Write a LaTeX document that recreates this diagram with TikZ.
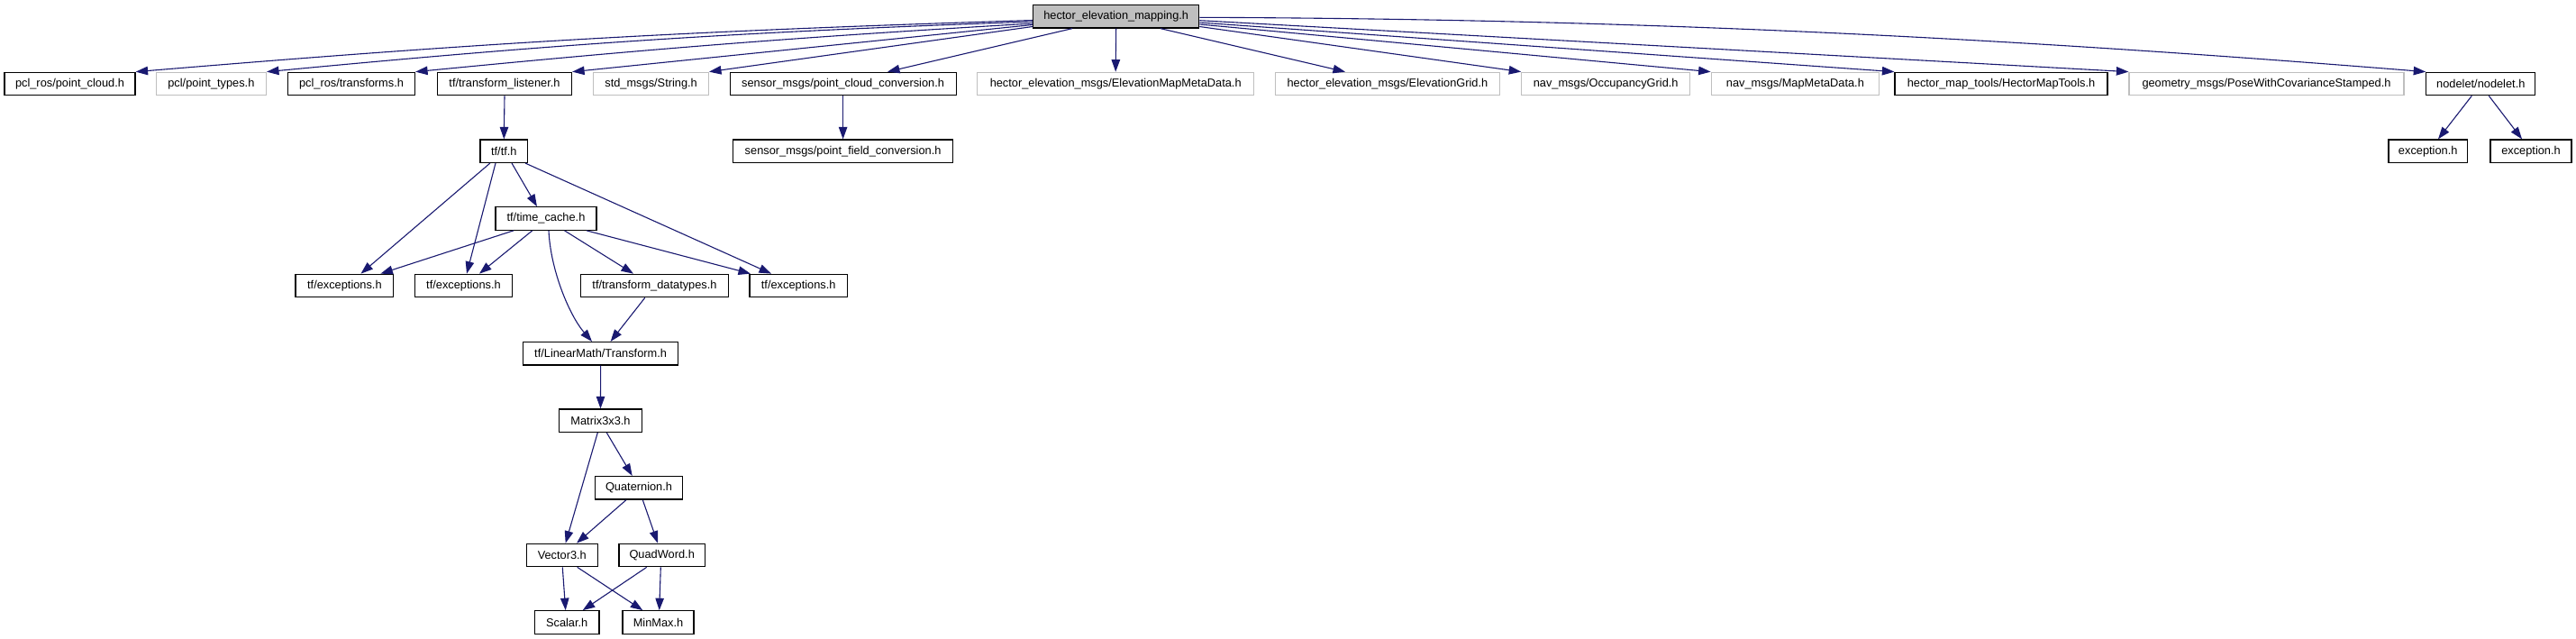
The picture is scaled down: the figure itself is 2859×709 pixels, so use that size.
\documentclass[tikz,border=0pt]{standalone}
\usepackage{fontspec}
\setmainfont{Liberation Sans}
\usetikzlibrary{arrows.meta,calc}
\definecolor{edgec}{HTML}{191970}
\definecolor{grayb}{HTML}{BFBFBF}
\begin{document}
\begin{tikzpicture}[x=1pt,y=-1pt,
  box/.style={draw=black, line width=1.2pt, minimum height=25.5pt, inner sep=0pt, font=\fontsize{12.8}{15}\selectfont, text=black},
  gbox/.style={box, draw=grayb},
  edge/.style={draw=edgec, line width=1.1pt, -{Triangle[length=13.5pt,width=9.5pt]}}]
\useasboundingbox (0,0) rectangle (2859,709);
% top
\node[box, fill=grayb, minimum width=184pt] (top) at (1238.7,18.3) {hector\_elevation\_mapping.h};
% row 1
\node[box, minimum width=145pt] (pc) at (77.5,93) {pcl\_ros/point\_cloud.h};
\node[gbox, minimum width=122pt] (pt) at (234.4,93) {pcl/point\_types.h};
\node[box, minimum width=141pt] (tr) at (390,93) {pcl\_ros/transforms.h};
\node[box, minimum width=149pt] (tl) at (560,93) {tf/transform\_listener.h};
\node[gbox, minimum width=127.6pt] (str) at (722.6,93) {std\_msgs/String.h};
\node[box, minimum width=251pt] (spc) at (935.6,93) {sensor\_msgs/point\_cloud\_conversion.h};
\node[gbox, minimum width=306.8pt] (emd) at (1238.2,93) {hector\_elevation\_msgs/ElevationMapMetaData.h};
\node[gbox, minimum width=249.3pt] (eg) at (1539.9,93) {hector\_elevation\_msgs/ElevationGrid.h};
\node[gbox, minimum width=186.8pt] (og) at (1782.2,93) {nav\_msgs/OccupancyGrid.h};
\node[gbox, minimum width=186.4pt] (mmd) at (1992.4,93) {nav\_msgs/MapMetaData.h};
\node[box, minimum width=236pt] (hmt) at (2221,93) {hector\_map\_tools/HectorMapTools.h};
\node[gbox, minimum width=305pt] (pwc) at (2515.5,93) {geometry\_msgs/PoseWithCovarianceStamped.h};
\node[box, minimum width=121pt] (nod) at (2753.3,93) {nodelet/nodelet.h};
% row 2
\node[box, minimum width=52.5pt] (tf) at (559.3,167.7) {tf/tf.h};
\node[box, minimum width=243.6pt] (spf) at (935.6,167.7) {sensor\_msgs/point\_field\_conversion.h};
\node[box, minimum width=87.5pt] (ex1) at (2694.7,167.7) {exception.h};
\node[box, minimum width=90pt] (ex2) at (2809,167.7) {exception.h};
% row 3
\node[box, minimum width=112pt] (tc) at (606,242.5) {tf/time\_cache.h};
% row 4
\node[box, minimum width=108.7pt] (e1) at (382.4,317) {tf/exceptions.h};
\node[box, minimum width=107.7pt] (e2) at (514.5,317) {tf/exceptions.h};
\node[box, minimum width=164.3pt] (td) at (726.5,317) {tf/transform\_datatypes.h};
\node[box, minimum width=108.3pt] (e3) at (886.2,317) {tf/exceptions.h};
% row 5..9
\node[box, minimum width=172pt] (lt) at (666.6,392.3) {tf/LinearMath/Transform.h};
\node[box, minimum width=91.6pt] (m3) at (666.5,466.7) {Matrix3x3.h};
\node[box, minimum width=96.6pt] (q) at (709,541.3) {Quaternion.h};
\node[box, minimum width=79pt] (v3) at (623.8,616) {Vector3.h};
\node[box, minimum width=95.3pt] (qw) at (734.7,616) {QuadWord.h};
\node[box, minimum width=71.7pt] (sc) at (629.2,690.5) {Scalar.h};
\node[box, minimum width=79pt] (mm) at (730.5,690.5) {MinMax.h};
% edges from top
\draw[edge] ($(top.west)+(0,4.2)$) to[bend right=1.5] (pc.north east);
\draw[edge] ($(top.west)+(0,5.7)$) to[bend right=1.7] (pt.north east);
\draw[edge] ($(top.west)+(0,7.7)$) to[bend right=1.1] (tr.north east);
\draw[edge] ($(top.west)+(0,9.2)$) -- (tl.north east);
\draw[edge] ($(top.west)+(0,11.2)$) -- (str.north east);
\draw[edge] ($(top.south)+(-48.7,0)$) -- ($(spc.north)+(49.4,0)$);
\draw[edge] (top.south) -- (emd.north);
\draw[edge] ($(top.south)+(49.3,0)$) -- ($(eg.north)+(-46.9,0)$);
\draw[edge] ($(top.east)+(0,11.2)$) -- (og.north west);
\draw[edge] ($(top.east)+(0,8.7)$) -- (mmd.north west);
\draw[edge] ($(top.east)+(0,6.7)$) -- (hmt.north west);
\draw[edge] ($(top.east)+(0,4.4)$) -- (pwc.north west);
\draw[edge] ($(top.east)+(0,1)$) .. controls (1800,21) and (2200,40) .. (nod.north west);
% lower edges
\draw[edge] (tl.south) -- (tf.north);
\draw[edge] (spc.south) -- (spf.north);
\draw[edge] ($(nod.south)+(-10,0)$) -- ($(ex1.north)+(11.3,0)$);
\draw[edge] ($(nod.south)+(9,0)$) -- ($(ex2.north)+(-10,0)$);
\draw[edge] ($(tf.south)+(-15.4,0)$) -- ($(e1.north)+(18.1,0)$);
\draw[edge] ($(tf.south)+(-9.3,0)$) -- ($(e2.north)+(3.5,0)$);
\draw[edge] ($(tf.south)+(8.7,0)$) -- ($(tc.north)+(-10,0)$);
\draw[edge] ($(tf.south)+(23.7,0)$) -- ($(e3.north)+(-30.2,0)$);
\draw[edge] ($(tc.south)+(-36,0)$) -- ($(e1.north)+(40,0)$);
\draw[edge] ($(tc.south)+(-15.2,0)$) -- ($(e2.north)+(17.5,0)$);
\draw[edge] ($(tc.south)+(3,0)$) .. controls (611,300) and (632,350) .. ($(lt.north)+(-9.6,0)$);
\draw[edge] ($(tc.south)+(20.5,0)$) -- ($(td.north)+(-23.5,0)$);
\draw[edge] ($(tc.south)+(45,0)$) -- ($(e3.north)+(-53.2,0)$);
\draw[edge] ($(td.south)+(-10.7,0)$) -- ($(lt.north)+(11,0)$);
\draw[edge] (lt.south) -- (m3.north);
\draw[edge] ($(m3.south)+(-3.2,0)$) -- ($(v3.north)+(3.9,0)$);
\draw[edge] ($(m3.south)+(6.8,0)$) -- ($(q.north)+(-7.3,0)$);
\draw[edge] ($(q.south)+(-14,0)$) -- ($(v3.north)+(16.2,0)$);
\draw[edge] ($(q.south)+(4.3,0)$) -- ($(qw.north)+(-4.7,0)$);
\draw[edge] ($(v3.south)+(0.5,0)$) -- ($(sc.north)+(-1.5,0)$);
\draw[edge] ($(v3.south)+(16.9,0)$) -- ($(mm.north)+(-17.2,0)$);
\draw[edge] ($(qw.south)+(-17,0)$) -- ($(sc.north)+(17.5,0)$);
\draw[edge] ($(qw.south)+(-1.4,0)$) -- ($(mm.north)+(1.2,0)$);
\end{tikzpicture}
\end{document}
